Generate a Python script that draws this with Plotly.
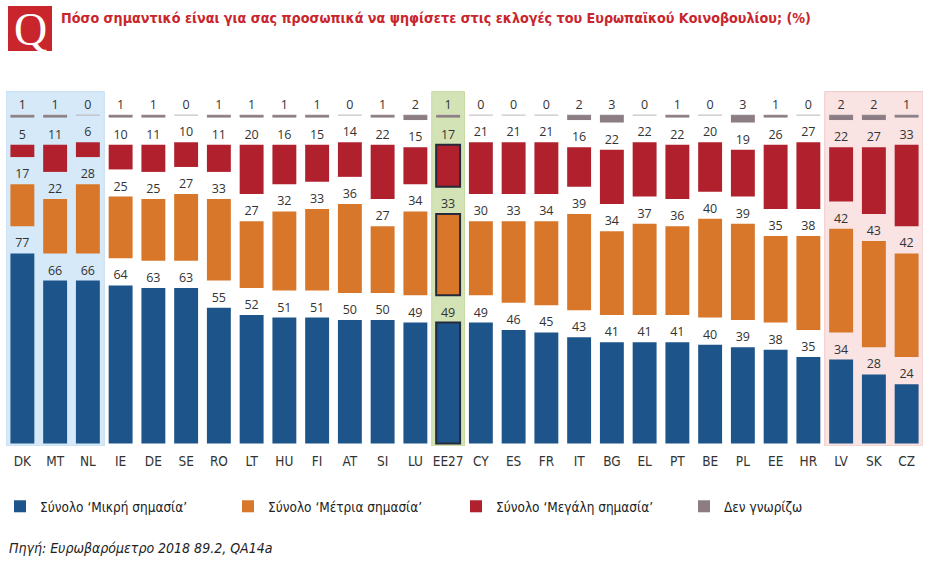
import plotly.graph_objects as go

# Data (%)
countries = ['DK', 'MT', 'NL', 'IE', 'DE', 'SE', 'RO', 'LT', 'HU', 'FI', 'AT', 'SI', 'LU', 'EE27',
             'CY', 'ES', 'FR', 'IT', 'BG', 'EL', 'PT', 'BE', 'PL', 'EE', 'HR', 'LV', 'SK', 'CZ']
small = [77, 66, 66, 64, 63, 63, 55, 52, 51, 51, 50, 50, 49, 49, 49, 46, 45, 43, 41, 41, 41, 40, 39, 38, 35, 34, 28, 24]
medium = [17, 22, 28, 25, 25, 27, 33, 27, 32, 33, 36, 27, 34, 33, 30, 33, 34, 39, 34, 37, 36, 40, 39, 35, 38, 42, 43, 42]
great = [5, 11, 6, 10, 11, 10, 11, 20, 16, 15, 14, 22, 15, 17, 21, 21, 21, 16, 22, 22, 22, 20, 19, 26, 27, 22, 27, 33]
dont_know = [1, 1, 0, 1, 1, 0, 1, 1, 1, 1, 0, 1, 2, 1, 0, 0, 0, 2, 3, 0, 1, 0, 3, 1, 0, 2, 2, 1]

names = ["Σύνολο ‘Μικρή σημασία’", "Σύνολο ‘Μέτρια σημασία’", "Σύνολο ‘Μεγάλη σημασία’", "Δεν γνωρίζω"]
colors = ['#1d5489', '#d8772a', '#b0202d', '#8c7d84']

# layout geometry
W, H = 931, 567
L, R, T, B = 6, 8, 83, 121
GAP = 11          # vertical gap between segments (in % units)
GREY_TOP = 133    # top of the "don't know" strip
LABEL_OFF = 3.7   # value labels sit just above each segment
BAR_W = 0.73
LABEL_FONT = dict(family='Open Sans, Noto Sans, sans-serif', size=12.5, color='#333333')
NARROW = 'DejaVu Sans Condensed, Liberation Sans Narrow, sans-serif'


def px_x(p):
    return (p - L) / (W - L - R)


def px_y(p):
    return 1 - (p - T) / (H - T - B)


eu = countries.index('EE27')
edge_w = [2 if c == 'EE27' else 0 for c in countries]

base_small = [0] * len(countries)
base_med = [s + GAP for s in small]
base_great = [s + m + 2 * GAP for s, m in zip(small, medium)]
base_dk = [GREY_TOP - d for d in dont_know]

fig = go.Figure()
series = [
    (small, base_small, names[0], colors[0], edge_w),
    (medium, base_med, names[1], colors[1], edge_w),
    (great, base_great, names[2], colors[2], edge_w),
    (dont_know, base_dk, names[3], colors[3], 0),
]
for vals, base, name, col, edge in series:
    fig.add_trace(go.Bar(
        x=countries, y=vals, base=base, name=name, width=BAR_W,
        marker=dict(color=col, line=dict(width=edge, color='#252a3a')),
        hoverinfo='x+y+name'
    ))
# value labels
for vals, base, name, col, edge in series:
    fig.add_trace(go.Scatter(
        x=countries, y=[b + v + LABEL_OFF for b, v in zip(base, vals)],
        mode='text', text=vals, textposition='middle center', textfont=LABEL_FONT,
        showlegend=False, hoverinfo='skip', cliponaxis=False
    ))

# background panels
panels = [(-0.5, 2.5, '#d6e9f8', '#c3dcf0'), (eu - 0.5, eu + 0.5, '#d4e3b6', '#c6d9a3'),
          (24.5, 27.5, '#f9e3e3', '#f0c9c9')]
shapes = []
for x0, x1, fill, line in panels:
    shapes.append(dict(type='rect', xref='x', yref='y', x0=x0, x1=x1, y0=-1, y1=142.5,
                       fillcolor=fill, line=dict(color=line, width=1), layer='below'))
# thin baseline of the "don't know" strip
for i in range(len(countries)):
    shapes.append(dict(type='line', xref='x', yref='y', x0=i - BAR_W / 2, x1=i + BAR_W / 2,
                       y0=GREY_TOP, y1=GREY_TOP, line=dict(color='#b9b4b6', width=1), layer='below'))
# Q icon
shapes.append(dict(type='rect', xref='paper', yref='paper', x0=px_x(8), x1=px_x(52),
                   y0=px_y(51), y1=px_y(6), fillcolor='#c9252c', line=dict(width=0), layer='below'))

annotations = [
    dict(text='Q', xref='paper', yref='paper', x=px_x(30), y=px_y(29), showarrow=False,
         xanchor='center', yanchor='middle',
         font=dict(family='Liberation Serif, DejaVu Serif, serif', size=46, color='white')),
    dict(text='<b>Πόσο σημαντικό είναι για σας προσωπικά να ψηφίσετε στις εκλογές του Ευρωπαϊκού Κοινοβουλίου; (%)</b>',
         xref='paper', yref='paper', x=px_x(59), y=px_y(18), xanchor='left', yanchor='middle',
         showarrow=False, font=dict(family=NARROW, size=14.2, color='#c9252c')),
    dict(text='<i>Πηγή: Ευρωβαρόμετρο 2018 89.2, QA14a</i>', xref='paper', yref='paper',
         x=px_x(7), y=px_y(548), xanchor='left', yanchor='middle', showarrow=False,
         font=dict(family=NARROW, size=14, color='#222222')),
]

fig.update_layout(
    width=W, height=H,
    margin=dict(l=L, r=R, t=T, b=B, autoexpand=False),
    barmode='overlay',
    plot_bgcolor='white', paper_bgcolor='white',
    shapes=shapes, annotations=annotations,
    showlegend=True,
    legend=dict(orientation='h', xref='container', yref='container', x=0, y=1 - 491 / H,
                xanchor='left', yanchor='top',
                entrywidth=183, entrywidthmode='pixels', traceorder='normal',
                font=dict(family=NARROW, size=13.5, color='#222222')),
)
fig.update_xaxes(type='category', range=[-0.5, len(countries) - 0.5], showgrid=False,
                 showline=False, ticks='', ticklabelstandoff=5,
                 tickfont=dict(family=NARROW, size=13.5, color='#333333'))
fig.update_yaxes(range=[-1, 146], visible=False)

# the page body has a default 8px margin; drop it so the figure fills the window
fig.write_html('out.html', config={'displayModeBar': False},
               post_script="document.body.style.margin = '0px';")
